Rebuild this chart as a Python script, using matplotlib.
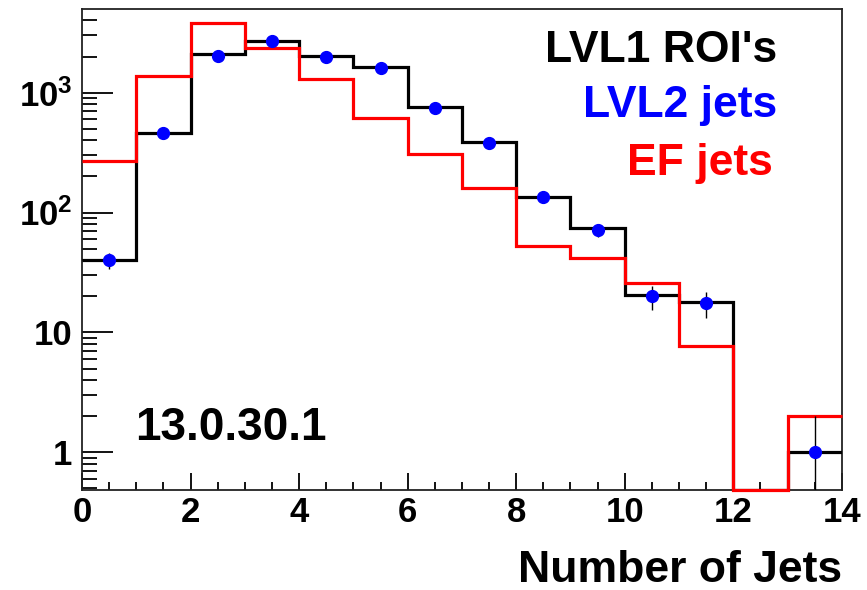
import numpy as np
import matplotlib
matplotlib.use('Agg')
import matplotlib.pyplot as plt
from matplotlib.ticker import FixedLocator, NullFormatter

plt.rcParams['font.family'] = 'Liberation Sans'
plt.rcParams['font.weight'] = 'bold'
plt.rcParams['mathtext.fontset'] = 'custom'
plt.rcParams['mathtext.bf'] = 'Liberation Sans:bold'
plt.rcParams['mathtext.rm'] = 'Liberation Sans:bold'

# jet multiplicity histograms, one bin per jet count 0..13
bin_edges = np.arange(0, 15)
lvl1_rois = [40, 461, 2113, 2690, 2006, 1633, 759, 388, 135, 73.6, 20.5, 17.8, 0, 1]
lvl2_jets = [40, 461, 2030, 2680, 1990, 1600, 750, 381, 135, 71, 20, 17.5, 0, 1]
ef_jets = [268, 1374, 3800, 2371, 1290, 618, 306, 160, 52.4, 41.4, 25.9, 7.73, 0, 2]

ymin, ymax = 0.485, 4980

fig = plt.figure(figsize=(8.67, 5.90), dpi=100)
ax = fig.add_axes([0.0946, 0.1695, 0.971 - 0.0946, 0.9847 - 0.1695])
ax.set_yscale('log')
ax.set_xlim(0, 14)
ax.set_ylim(ymin, ymax)

# empty bins sit on the bottom of the frame
def floor(vals):
    v = np.asarray(vals, dtype=float)
    return np.where(v > 0, v, ymin)

ax.stairs(floor(lvl1_rois), bin_edges, color='black', lw=2.3, baseline=None,
          zorder=3)
ax.stairs(floor(ef_jets), bin_edges, color='#ff0000', lw=2.3, baseline=None,
          zorder=3.5, clip_on=False)

centers = 0.5 * (bin_edges[:-1] + bin_edges[1:])
l2 = np.asarray(lvl2_jets, dtype=float)
mask = l2 > 0
err = np.sqrt(l2[mask])
lo = np.minimum(err, l2[mask] - ymin * 0.999)
ax.errorbar(centers[mask], l2[mask], yerr=[lo, err], fmt='o', color='#0000ff',
            ms=8.5, ecolor='black', elinewidth=1.0, capsize=0, zorder=5)

for s in ax.spines.values():
    s.set_linewidth(1.3)
    s.set_color('#222222')

ax.xaxis.set_major_locator(FixedLocator(np.arange(0, 15, 2)))
ax.xaxis.set_minor_locator(FixedLocator(np.arange(0, 14.01, 0.5)))
ax.tick_params(axis='x', which='major', direction='in', length=12, width=1.3,
               labelsize=25, pad=4, top=False)
ax.tick_params(axis='x', which='minor', direction='in', length=6, width=1.3, top=False)

ax.set_yticks([1, 10, 100, 1000])
ax.set_yticklabels(['1', '10', r'$\mathbf{10^{2}}$', r'$\mathbf{10^{3}}$'])
minor_y = [m * 10.0**e for e in range(-1, 4) for m in range(2, 10)
           if ymin <= m * 10.0**e <= ymax]
ax.yaxis.set_minor_locator(FixedLocator(minor_y))
ax.yaxis.set_minor_formatter(NullFormatter())
ax.tick_params(axis='y', which='major', direction='in', length=22, width=1.3,
               labelsize=25, pad=7, right=False)
ax.tick_params(axis='y', which='minor', direction='in', length=11, width=1.3, right=False)

fig.text(0.971, 1 - 582 / 590, 'Number of Jets', ha='right', va='baseline',
         fontsize=32, fontweight='bold')

fig.text(0.896, 1 - 62 / 590, "LVL1 ROI's", ha='right', va='baseline',
         fontsize=32, fontweight='bold', color='black')
fig.text(0.896, 1 - 117 / 590, 'LVL2 jets', ha='right', va='baseline',
         fontsize=32, fontweight='bold', color='#0000ff')
fig.text(0.892, 1 - 175 / 590, 'EF jets', ha='right', va='baseline',
         fontsize=32, fontweight='bold', color='#ff0000')
fig.text(135 / 867, 1 - 440 / 590, '13.0.30.1', ha='left', va='baseline',
         fontsize=33, fontweight='bold', color='black')

fig.savefig('out.png', dpi=100)
